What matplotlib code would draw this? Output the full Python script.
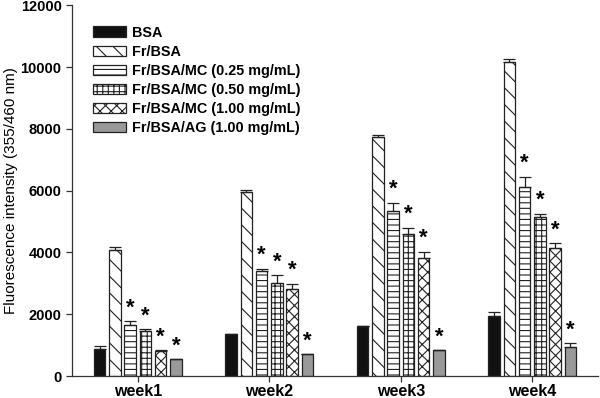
import numpy as np
import matplotlib
matplotlib.use("Agg")
import matplotlib.pyplot as plt

plt.rcParams['font.family'] = ['Liberation Sans', 'DejaVu Sans']
plt.rcParams['hatch.linewidth'] = 0.8

weeks = ["week1", "week2", "week3", "week4"]
labels = ["BSA", "Fr/BSA", "Fr/BSA/MC (0.25 mg/mL)", "Fr/BSA/MC (0.50 mg/mL)",
          "Fr/BSA/MC (1.00 mg/mL)", "Fr/BSA/AG (1.00 mg/mL)"]

bsa = [875, 1360, 1620, 1950]
bsa_err = [95, 0, 0, 120]
fr_bsa = [4080, 5960, 7750, 10180]
fr_bsa_err = [100, 50, 60, 100]
mc025 = [1650, 3400, 5350, 6130]
mc025_err = [130, 70, 260, 320]
mc050 = [1460, 3010, 4600, 5150]
mc050_err = [60, 260, 200, 100]
mc100 = [810, 2820, 3820, 4140]
mc100_err = [30, 160, 200, 160]
ag = [550, 710, 840, 940]
ag_err = [0, 0, 0, 120]

values = [bsa, fr_bsa, mc025, mc050, mc100, ag]
errors = [bsa_err, fr_bsa_err, mc025_err, mc050_err, mc100_err, ag_err]
starred = [False, False, True, True, True, True]

colors = ['#111111', 'white', 'white', 'white', 'white', '#999999']
hatches = [None, '\\\\', '---', '+++', 'xxx', None]

fig = plt.figure(figsize=(6, 3.98), dpi=100)
ax = fig.add_axes([72 / 600, 22 / 398, 526 / 600, 370.6 / 398])

x = np.arange(len(weeks))
pitch = 0.116
width = 0.087

for i in range(len(values)):
    pos = x + (i - 2.5) * pitch
    v = np.array(values[i])
    e = np.array(errors[i])
    ax.bar(pos, v, width, color=colors[i], edgecolor='#222222', linewidth=0.9,
           hatch=hatches[i], label=labels[i], zorder=2)
    ax.errorbar(pos, v, yerr=[np.zeros_like(e), e], fmt='none', ecolor='#222222',
                elinewidth=0.9, capsize=4, capthick=0.9, zorder=3)
    if starred[i]:
        for px, top in zip(pos, v + e):
            ax.annotate('*', (px, top), xytext=(0, 2), textcoords='offset points',
                        ha='center', va='bottom', fontsize=16, fontweight='bold')

ax.set_xlim(-0.5, 3.5)
ax.set_ylim(0, 12000)
ax.set_yticks(np.arange(0, 12001, 2000))
ax.set_xticks(x)
ax.set_xticklabels(weeks, fontsize=11.5, fontweight='bold')
for t in ax.get_yticklabels():
    t.set_fontweight('bold')
    t.set_fontsize(10.5)
ax.tick_params(axis='both', direction='out', length=4, color='#333333', width=0.9)
ax.tick_params(axis='x', pad=1.5)
ax.set_ylabel('Fluorescence intensity (355/460 nm)', fontsize=11)
ax.yaxis.set_label_coords(-0.103, 0.5)

for s in ['top', 'right']:
    ax.spines[s].set_visible(False)
for s in ['left', 'bottom']:
    ax.spines[s].set_color('#333333')
    ax.spines[s].set_linewidth(0.9)

ax.legend(loc='upper left', bbox_to_anchor=(0.04, 0.945), frameon=False,
          prop={'weight': 'bold', 'size': 10.4}, handlelength=2.3,
          handleheight=0.75, handletextpad=0.4, labelspacing=0.35,
          borderpad=0, borderaxespad=0)

fig.savefig('out.png', dpi=100)
